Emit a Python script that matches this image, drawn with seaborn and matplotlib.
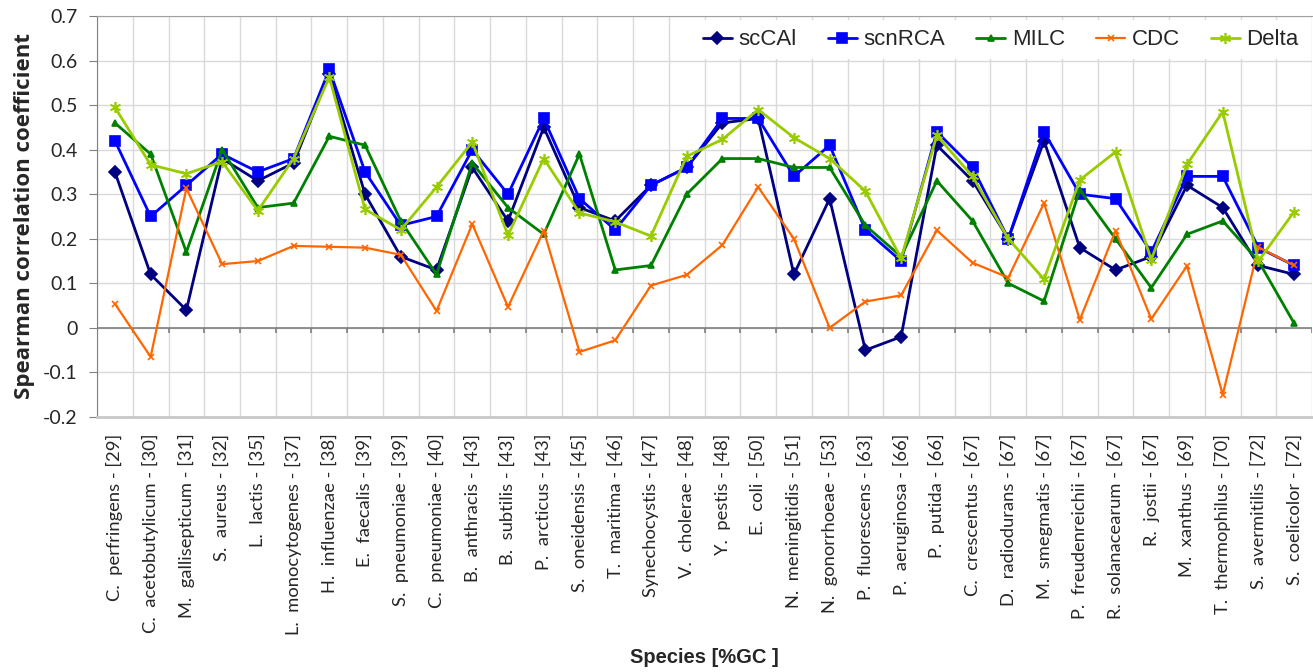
"""Spearman correlation of codon usage indices across species, ordered by GC content."""

import matplotlib
matplotlib.use("Agg")
import matplotlib.pyplot as plt
import numpy as np
import seaborn as sns

species = [
    "C.  perfringens - [29]", "C.  acetobutylicum - [30]", "M.  gallisepticum - [31]",
    "S.  aureus - [32]", "L.  lactis - [35]", "L.  monocytogenes - [37]",
    "H.  influenzae - [38]", "E.  faecalis - [39]", "S.  pneumoniae - [39]",
    "C.  pneumoniae - [40]", "B.  anthracis - [43]", "B.  subtilis - [43]",
    "P.  arcticus - [43]", "S.  oneidensis - [45]", "T.  maritima - [46]",
    "Synechocystis - [47]", "V.  cholerae - [48]", "Y.  pestis - [48]",
    "E.  coli - [50]", "N.  meningitidis - [51]", "N.  gonorrhoeae - [53]",
    "P.  fluorescens - [63]", "P.  aeruginosa - [66]", "P.  putida - [66]",
    "C.  crescentus - [67]", "D.  radiodurans - [67]", "M.  smegmatis - [67]",
    "P.  freudenreichii - [67]", "R.  solanacearum - [67]", "R.  jostii - [67]",
    "M.  xanthus - [69]", "T.  thermophilus - [70]", "S.  avermitilis - [72]",
    "S.  coelicolor - [72]",
]

sccai = [0.35, 0.12, 0.04, 0.38, 0.33, 0.37, 0.57, 0.30, 0.16, 0.13, 0.36, 0.24,
         0.45, 0.27, 0.24, 0.32, 0.36, 0.46, 0.47, 0.12, 0.29, -0.05, -0.02, 0.41,
         0.33, 0.20, 0.42, 0.18, 0.13, 0.16, 0.32, 0.27, 0.14, 0.12]
scnrca = [0.42, 0.25, 0.32, 0.39, 0.35, 0.38, 0.58, 0.35, 0.23, 0.25, 0.40, 0.30,
          0.47, 0.29, 0.22, 0.32, 0.36, 0.47, 0.47, 0.34, 0.41, 0.22, 0.15, 0.44,
          0.36, 0.20, 0.44, 0.30, 0.29, 0.17, 0.34, 0.34, 0.18, 0.14]
milc = [0.46, 0.39, 0.17, 0.40, 0.27, 0.28, 0.43, 0.41, 0.24, 0.12, 0.37, 0.27,
        0.21, 0.39, 0.13, 0.14, 0.30, 0.38, 0.38, 0.36, 0.36, 0.23, 0.16, 0.33,
        0.24, 0.10, 0.06, 0.31, 0.20, 0.09, 0.21, 0.24, 0.15, 0.01]
cdc = [0.054, -0.065, 0.313, 0.143, 0.150, 0.184, 0.182, 0.180, 0.164, 0.038, 0.233, 0.047,
       0.218, -0.054, -0.028, 0.095, 0.119, 0.186, 0.316, 0.200, 0.000, 0.059, 0.073, 0.219,
       0.146, 0.113, 0.280, 0.018, 0.218, 0.020, 0.139, -0.150, 0.181, 0.140]
delta = [0.495, 0.366, 0.346, 0.373, 0.263, 0.380, 0.563, 0.266, 0.220, 0.316, 0.417, 0.208,
         0.380, 0.258, 0.238, 0.206, 0.385, 0.423, 0.490, 0.427, 0.380, 0.307, 0.156, 0.432,
         0.340, 0.200, 0.109, 0.332, 0.395, 0.153, 0.367, 0.485, 0.150, 0.261]

yticks = [-0.2, -0.1, 0, 0.1, 0.2, 0.3, 0.4, 0.5, 0.6, 0.7]

# name, values, colour, marker, marker size, line width
series = [
    ("scCAl", sccai, "#000080", "D", 6, 2.0),
    ("scnRCA", scnrca, "#0000ff", "s", 7.5, 2.0),
    ("MILC", milc, "#008000", "^", 5, 2.0),
    ("CDC", cdc, "#ff6600", "x", 5, 1.6),
    ("Delta", delta, "#99cc00", (6, 2, 0), 8, 2.0),
]

sns.set_style("white")
plt.rcParams["font.family"] = ["Liberation Sans", "DejaVu Sans"]
body_font = ["Lato", "DejaVu Sans"]

fig = plt.figure(figsize=(13.13, 6.72), dpi=100)
ax = fig.add_axes([0.0739, 0.3795, 0.9254, 0.5967])

pos = np.arange(len(species))
bounds = np.arange(len(species) + 1) - 0.5

for name, vals, color, marker, ms, lw in series:
    sns.lineplot(x=pos, y=vals, ax=ax, color=color, marker=marker, markersize=ms,
                 markeredgecolor=color, markeredgewidth=1.2, lw=lw, label=name, zorder=3)

ax.set_xlim(-0.5, len(species) - 0.5)
ax.set_ylim(-0.2, 0.7)

# gridlines between categories and every 0.1
ax.set_xticks(pos)
ax.set_xticks(bounds, minor=True)
ax.set_xticklabels(species, rotation=90, fontfamily=body_font, fontsize=13.2)
ax.tick_params(axis="x", which="both", length=0, pad=12)
ax.grid(which="minor", axis="x", color="#d9d9d9", lw=1)
ax.grid(which="major", axis="y", color="#d9d9d9", lw=1)
ax.grid(which="major", axis="x", visible=False)

ax.set_yticks(yticks)
ax.set_yticklabels([f"{v:g}" for v in yticks], fontfamily=body_font, fontsize=14)
ax.tick_params(axis="y", length=6, color="#808080", pad=8, left=True)

# category axis line at y = 0 with small tick marks hanging below it
ax.axhline(0, color="#808080", lw=1.2, zorder=2)
ax.vlines(bounds, -0.012, 0, color="#808080", lw=1.2, zorder=2)

ax.spines["left"].set_color("#808080")
ax.spines["top"].set_color("#a0a0a0")
ax.spines["bottom"].set_color("#c8c8c8")
ax.spines["bottom"].set_linewidth(2)
ax.spines["right"].set_visible(False)

ax.set_ylabel("Spearman correlation coefficient", fontsize=16, fontweight="bold",
              fontfamily=["Open Sans", "DejaVu Sans"])
ax.yaxis.set_label_coords(-0.051, 0.5)
ax.set_xlabel("Species [%GC ]", fontsize=14.5, fontweight="bold")
ax.xaxis.set_label_coords(0.5, -0.575)

ax.legend(loc="upper right", ncol=5, fontsize=16, frameon=True, facecolor="white",
          edgecolor="none", framealpha=1, fancybox=False, borderaxespad=0.2,
          handlelength=1.3, handletextpad=0.3, columnspacing=1.4)

fig.savefig("out.png", dpi=100)
